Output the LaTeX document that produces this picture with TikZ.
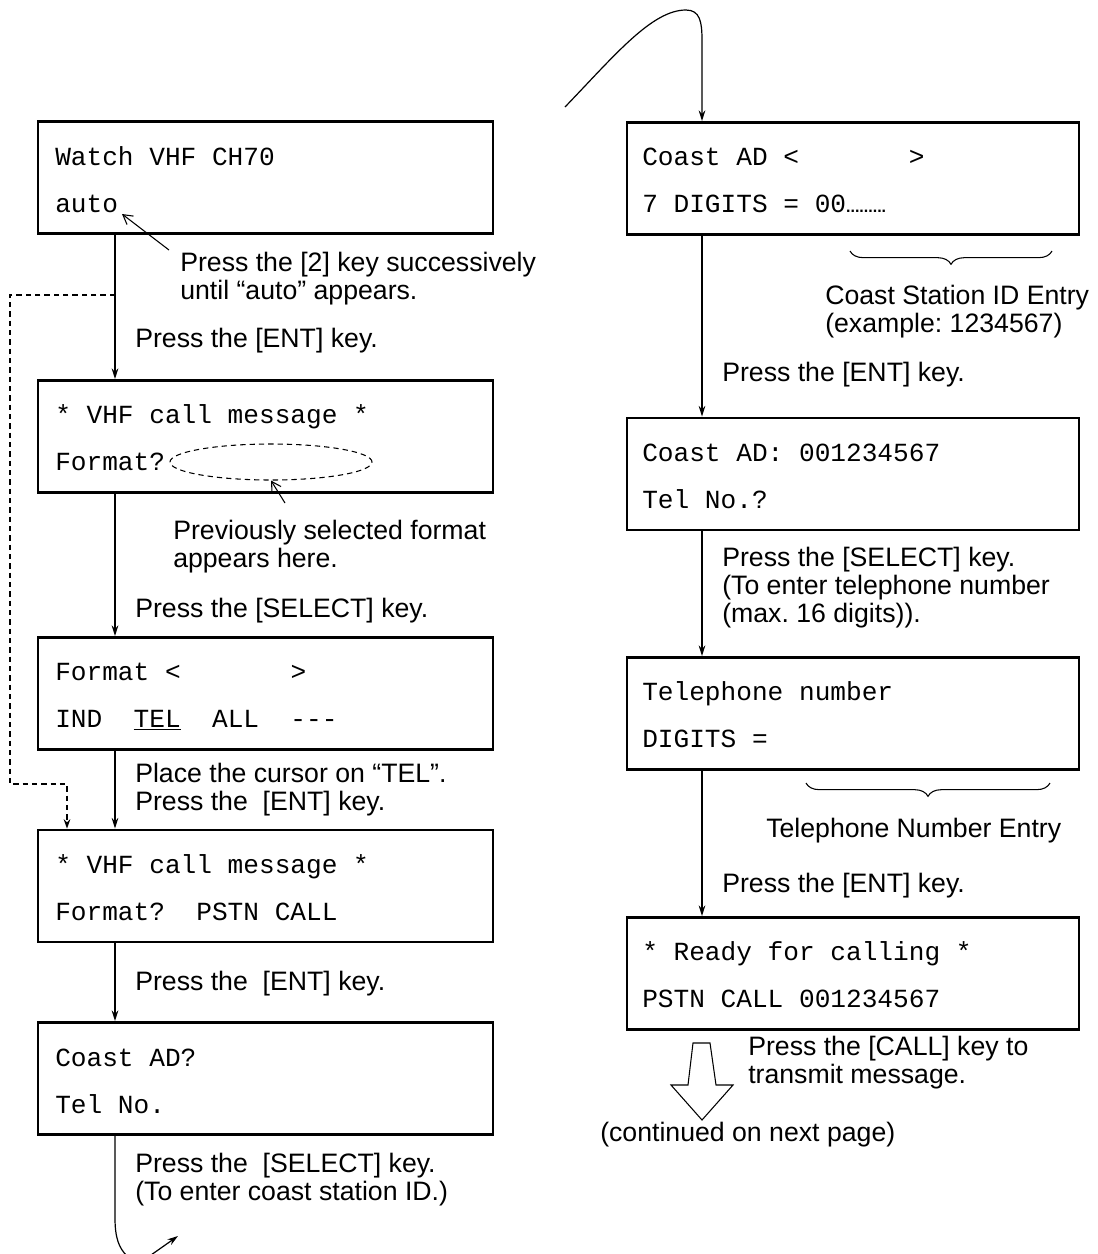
\documentclass[tikz,border=0pt]{standalone}
\usepackage{fontspec}
\setmainfont{Liberation Sans}
\setmonofont{Liberation Mono}
\usetikzlibrary{arrows.meta,shapes.geometric,decorations.pathreplacing}
\begin{document}
\begin{tikzpicture}[x=0.75pt,y=-0.75pt,
  lbox/.style={draw,line width=2.2pt,minimum width=341.25pt,minimum height=84pt,inner sep=0pt},
  rbox/.style={draw,line width=2.2pt,minimum width=339pt,minimum height=84pt,inner sep=0pt},
  lcd/.style={anchor=base west,inner sep=0pt,font=\ttfamily\fontsize{19.6}{23}\selectfont},
  lab/.style={anchor=base west,inner sep=0pt,align=left,font=\frenchspacing\fontsize{20}{21}\selectfont},
  conn/.style={line width=0.9pt,-{Stealth[length=8pt,width=5pt]}},
  pointer/.style={line width=0.8pt,-{Straight Barb[length=7pt,width=8pt]}},
  dconn/.style={line width=0.8pt,dash pattern=on 4pt off 3pt,-{Stealth[length=7pt,width=5pt]}},
  brc/.style={line width=0.8pt,decorate,decoration={brace,mirror,amplitude=10pt}}
]
\path[use as bounding box] (0,0) rectangle (1098,1254);

% left boxes
\node[lbox] (b1) at (265.5,177.5) {};
\node[lbox] (b2) at (265.5,436.5) {};
\node[lbox] (b3) at (265.5,693.5) {};
\node[lbox] (b4) at (265.5,886) {};
\node[lbox] (b5) at (265.5,1078.5) {};
% right boxes
\node[rbox] (r1) at (853,178.5) {};
\node[rbox] (r2) at (853,474) {};
\node[rbox] (r3) at (853,713.5) {};
\node[rbox] (r4) at (853,973.5) {};

% box texts
\node[lcd] (t1a) at (55,165) {Watch VHF CH70};
\node[lcd] (t1b) at (55,212) {auto};
\node[lcd] (t2a) at (55,423) {*~VHF call message~*};
\node[lcd] (t2b) at (55,470) {Format?};
\node[lcd] (t3a) at (55,680) {Format~<~~~~~~~>};
\node[lcd] (t3b) at (55,727) {IND~~\underline{TEL}~~ALL~~-{}-{}-};
\node[lcd] (t4a) at (55,873) {*~VHF call message~*};
\node[lcd] (t4b) at (55,920) {Format?~~PSTN CALL};
\node[lcd] (t5a) at (55,1066) {Coast AD?};
\node[lcd] (t5b) at (55,1113) {Tel No.};

\node[lcd] (s1a) at (642,165) {Coast AD~<~~~~~~~>};
\node[lcd] (s1b) at (642,212) {7 DIGITS = 00{\rmfamily\bfseries\fontsize{12}{12}\selectfont .........}};
\node[lcd] (s2a) at (642,461) {Coast AD: 001234567};
\node[lcd] (s2b) at (642,508) {Tel No.?};
\node[lcd] (s3a) at (642,700) {Telephone number};
\node[lcd] (s3b) at (642,747) {DIGITS =};
\node[lcd] (s4a) at (642,960) {*~Ready for calling~*};
\node[lcd] (s4b) at (642,1007) {PSTN CALL 001234567};

% ellipse
\node[draw,ellipse,dash pattern=on 4pt off 3pt,line width=0.8pt,minimum width=151.5pt,minimum height=27pt,inner sep=0pt] (ell) at (271,462) {};

% labels (anchor = baseline of last line)
\node[lab] (l1) at (180,299) {Press the [2] key successively\\until “auto” appears.};
\node[lab] (l2) at (135,347) {Press the [ENT] key.};
\node[lab] (l3) at (173,567) {Previously selected format\\appears here.};
\node[lab] (l4) at (135,617) {Press the [SELECT] key.};
\node[lab] (l5) at (135,810) {Place the cursor on “TEL”.\\Press the~ [ENT] key.};
\node[lab] (l6) at (135,990) {Press the~ [ENT] key.};
\node[lab] (l7) at (135,1200) {Press the~ [SELECT] key.\\(To enter coast station ID.)};
\node[lab] (m1) at (825,332) {Coast Station ID Entry\\(example: 1234567)};
\node[lab] (m2) at (722,381) {Press the [ENT] key.};
\node[lab] (m3) at (722,622) {Press the [SELECT] key.\\(To enter telephone number\\(max. 16 digits)).};
\node[lab] (m4) at (766,837) {Telephone Number Entry};
\node[lab] (m5) at (722,892) {Press the [ENT] key.};
\node[lab] (m6) at (748,1083) {Press the [CALL] key to\\transmit message.};
\node[lab] (m7) at (600,1141) {(continued on next page)};

% pointers
\coordinate (pa) at (169,250);
\coordinate (pb) at (122,214);
\draw[pointer] (pa) -- (pb);
\coordinate (pc) at (285,503);
\draw[pointer] (pc) -- (ell.south);

% left connectors
\draw[conn] (b1.south -| 115,0) -- (b2.north -| 115,0);
\draw[conn] (b2.south -| 115,0) -- (b3.north -| 115,0);
\draw[conn] (b3.south -| 115,0) -- (b4.north -| 115,0);
\draw[conn] (b4.south -| 115,0) -- (b5.north -| 115,0);

% dashed bypass
\coordinate (d0) at (115,295);
\coordinate (d1) at (10,784);
\draw[dconn] (d0) -| (d1) -| (b4.north -| 67,0);

% bottom-left continuation
\coordinate (bc) at (127,1256);
\draw[line width=0.9pt] (b5.south -| 115,0) -- (115,1218) .. controls (115,1238) and (119,1248) .. (bc);
\coordinate (ba) at (151,1255);
\coordinate (bb) at (178,1236);
\draw[conn] (ba) -- (bb);

% top-right continuation
\coordinate (tc) at (565,107);
\draw[conn] (tc) .. controls (615,55) and (652,10) .. (686,10) .. controls (700,10) and (702,22) .. (702,40) -- (r1.north -| 702,0);

% right connectors
\draw[conn] (r1.south -| 702,0) -- (r2.north -| 702,0);
\draw[conn] (r2.south -| 702,0) -- (r3.north -| 702,0);
\draw[conn] (r3.south -| 702,0) -- (r4.north -| 702,0);

% braces
\coordinate (br1a) at (850,251);
\coordinate (br1b) at (1052,251);
\draw[brc] (br1a) -- (br1b);
\coordinate (br2a) at (806,783);
\coordinate (br2b) at (1050,783);
\draw[brc] (br2a) -- (br2b);

% big hollow arrow
\draw[line width=0.8pt,fill=white] (693,1043) -- (710,1043) -- (716,1085) -- (733,1085) -- (702,1120) -- (671,1085) -- (688,1085) -- cycle;
\end{tikzpicture}
\end{document}
